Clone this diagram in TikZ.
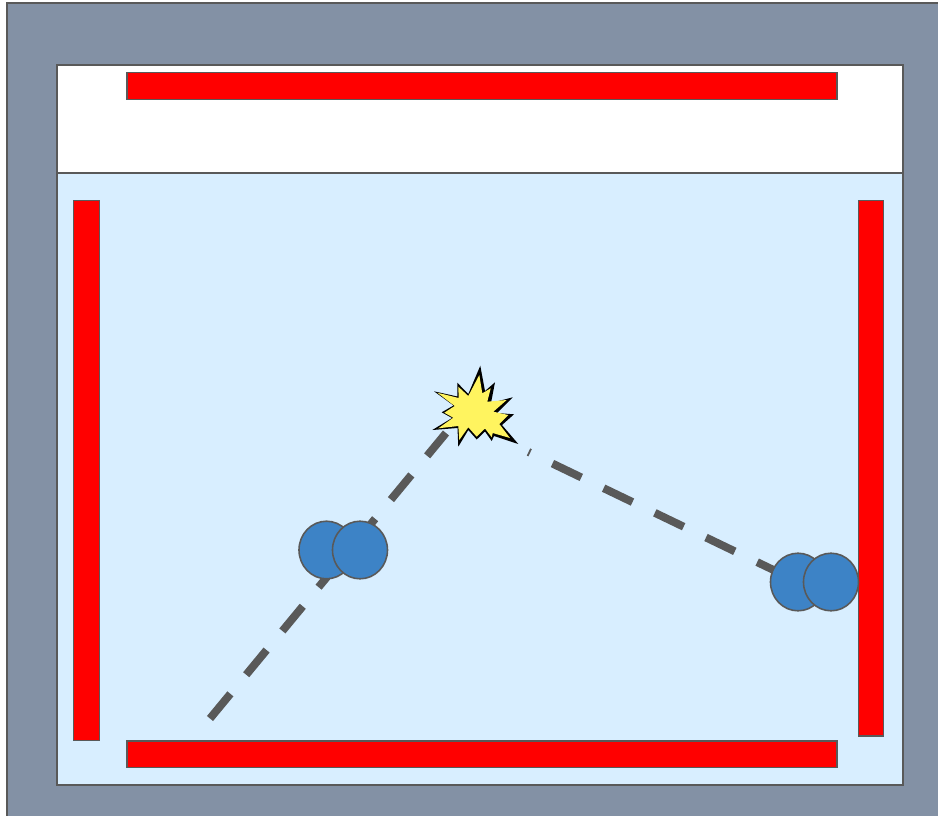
\documentclass[tikz,border=0pt]{standalone}
\usepackage{xcolor}
\usetikzlibrary{shapes.geometric}
\definecolor{wallgray}{HTML}{8391A5}
\definecolor{edgegray}{HTML}{595959}
\definecolor{roomblue}{HTML}{D8EEFF}
\definecolor{ballblue}{HTML}{3D83C6}
\definecolor{staryellow}{HTML}{FFF45F}
\tikzset{
  panel/.style={draw=edgegray,line width=0.9pt},
  wallbar/.style={panel,fill=red},
  ball/.style={ellipse,draw=edgegray,fill=ballblue,line width=0.9pt,inner sep=0pt,minimum width=55\unit,minimum height=57.6\unit},
  rayline/.style={draw=edgegray,line width=4.5pt,dash pattern=on 32\unit off 24.8\unit}
}
\newcommand{\unit}{*0.02cm}
\begin{document}
\begin{tikzpicture}[x=0.02cm,y=-0.02cm]
\useasboundingbox (0,0) rectangle (938,816);
\path[clip] (0,0) rectangle (938,816);
\draw[panel,fill=wallgray] (7,3) rectangle (945,825);
\draw[panel,fill=white] (57,65) rectangle (903,173);
\draw[panel,fill=roomblue] (57,173) rectangle (903,785);
\draw[wallbar] (127,72.5) rectangle (837,99.5);
\draw[wallbar] (73.5,200.5) rectangle (99.5,740.5);
\draw[wallbar] (858.5,200.5) rectangle (883.5,736);
\draw[wallbar] (127,741) rectangle (837,767.5);
\coordinate (leftstart) at (210,718.5);
\coordinate (leftend) at (446,433);
\coordinate (rightstart) at (786,576);
\coordinate (rightend) at (528.5,452);
\draw[rayline] (leftstart) -- (leftend);
\draw[rayline] (rightstart) -- (rightend);
\node[ball] (balla) at (326.5,550) {};
\node[ball] (ballb) at (360,550) {};
\node[ball] (ballc) at (798,582) {};
\node[ball] (balld) at (831,582) {};
% flash
\fill[black] (480.3,365.7) -- (485,391) -- (495,382.3) -- (491,403) -- (512.7,397.3) -- (497,413) -- (514,414.3) -- (502,425) -- (518.3,444) -- (494,436) -- (491.7,441) -- (485,431.5) -- (476.7,439.5) -- (468.3,430) -- (458.3,446.7) -- (457.5,428) -- (432.3,430) -- (452,418) -- (441.7,412.3) -- (453.5,405.5) -- (434,391.3) -- (457.5,396.5) -- (457.3,382.7) -- (468.3,394) -- cycle;
\fill[staryellow] (479.3,375) -- (482.3,393.3) -- (490.7,388.3) -- (487.3,401.7) -- (506.7,400) -- (493.3,411.7) -- (508.3,415) -- (499.3,424) -- (510,438) -- (492.7,433) -- (491.7,437.3) -- (485,428.5) -- (476.7,436.7) -- (468.3,427.3) -- (459.3,440) -- (458.3,426) -- (438.3,428.3) -- (453.3,417.7) -- (444.3,412.7) -- (454.7,406) -- (437.3,392.7) -- (458.7,398) -- (458.3,386.7) -- (468.3,396) -- cycle;
\end{tikzpicture}
\end{document}
